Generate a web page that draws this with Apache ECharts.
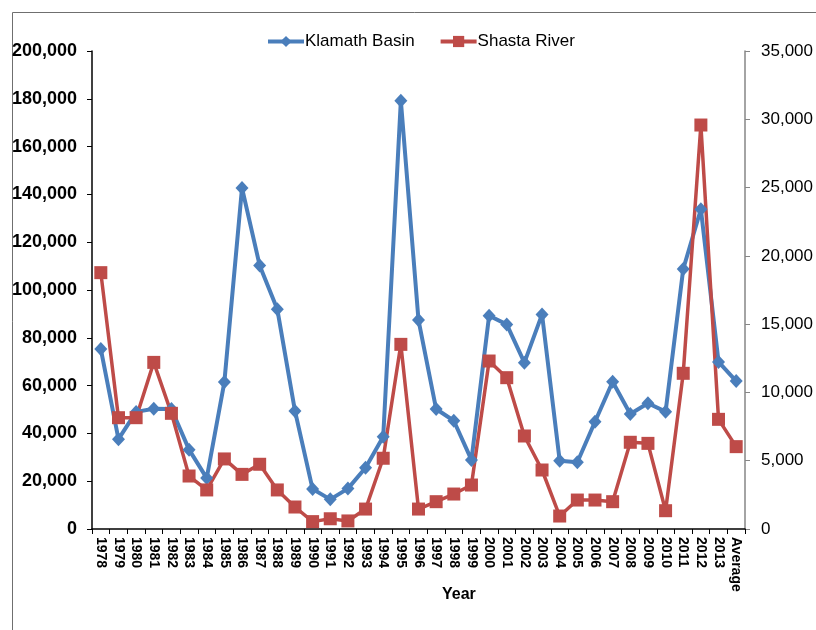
<!DOCTYPE html>
<html>
<head>
<meta charset="utf-8">
<script src="https://cdn.jsdelivr.net/npm/echarts@6/dist/echarts.min.js"></script>
<style>
html,body{margin:0;padding:0;background:#fff;}
#c{width:816px;height:630px;}
</style>
</head>
<body>
<div id="c"></div>
<script>
var years = ['1978','1979','1980','1981','1982','1983','1984','1985','1986','1987','1988','1989','1990','1991','1992','1993','1994','1995','1996','1997','1998','1999','2000','2001','2002','2003','2004','2005','2006','2007','2008','2009','2010','2011','2012','2013','Average'];
var klamath = [75300,37600,49000,50300,50200,33200,21300,61500,142700,110300,91900,49400,16700,12400,16900,25600,38600,179200,87400,50200,45300,28900,89200,85600,69600,89800,28600,27900,44900,61600,48100,52600,49100,108800,133800,69900,61900];
var shasta = [18770,8150,8150,12200,8470,3880,2860,5130,4000,4740,2860,1610,540,750,590,1460,5180,13520,1460,2000,2560,3220,12300,11080,6810,4320,950,2120,2120,2000,6350,6270,1340,11400,29580,8030,6030];
var leftTicks = {min:0, max:200000, interval:20000};
var rightTicks = {min:0, max:35000, interval:5000};

function fmt(v){ return v.toString().replace(/\B(?=(\d{3})+(?!\d))/g, ','); }

var chart = echarts.init(document.getElementById('c'), null, {renderer:'canvas'});
chart.setOption({
  animation:false,
  backgroundColor:'#fff',
  textStyle:{fontFamily:'Liberation Sans, Arial, sans-serif'},
  graphic:[
    {type:'polyline', shape:{points:[[12.5,630],[12.5,12.5],[816,12.5]]}, style:{stroke:'#6f6f6f', lineWidth:1, fill:null}, silent:true},
    {type:'text', left:442, top:587, style:{text:'Year', font:'bold 16px Liberation Sans, Arial, sans-serif', fill:'#000'}}
  ],
  legend:{
    left:261, top:28,
    itemWidth:36, itemHeight:14, itemGap:24,
    lineStyle:{width:4},
    textStyle:{fontSize:17, color:'#000', fontFamily:'Liberation Sans, Arial, sans-serif', padding:[0,0,0,-4]},
    data:['Klamath Basin','Shasta River']
  },
  grid:{left:92, right:70, top:51, bottom:101, containLabel:false},
  xAxis:{
    type:'category', data:years, boundaryGap:true,
    axisLine:{lineStyle:{color:'#000', width:1.5}},
    axisTick:{show:true, alignWithLabel:false, length:5, lineStyle:{color:'#000'}},
    axisLabel:{rotate:-90, interval:0, margin:8, fontSize:14, fontWeight:'bold', color:'#000', fontFamily:'Liberation Sans, Arial, sans-serif'},
    splitLine:{show:false}
  },
  yAxis:[
    {type:'value', min:leftTicks.min, max:leftTicks.max, interval:leftTicks.interval, position:'left',
     axisLine:{show:true, lineStyle:{color:'#000', width:1.5}},
     axisTick:{show:true, length:5, lineStyle:{color:'#000'}},
     axisLabel:{margin:15, fontSize:18, fontWeight:'bold', color:'#000', formatter:fmt},
     splitLine:{show:false}},
    {type:'value', min:rightTicks.min, max:rightTicks.max, interval:rightTicks.interval, position:'right',
     axisLine:{show:true, lineStyle:{color:'#868686', width:1.5}},
     axisTick:{show:true, length:5, lineStyle:{color:'#868686'}},
     axisLabel:{margin:16, fontSize:17, color:'#000', formatter:fmt},
     splitLine:{show:false}}
  ],
  series:[
    {name:'Klamath Basin', type:'line', yAxisIndex:0, data:klamath,
     symbol:'diamond', symbolSize:[13,14], showAllSymbol:true,
     lineStyle:{color:'#4A7EBB', width:4}, itemStyle:{color:'#4A7EBB'}},
    {name:'Shasta River', type:'line', yAxisIndex:1, data:shasta,
     symbol:'rect', symbolSize:13, showAllSymbol:true,
     lineStyle:{color:'#BE4B48', width:3.5}, itemStyle:{color:'#BE4B48'}}
  ]
});
</script>
</body>
</html>
